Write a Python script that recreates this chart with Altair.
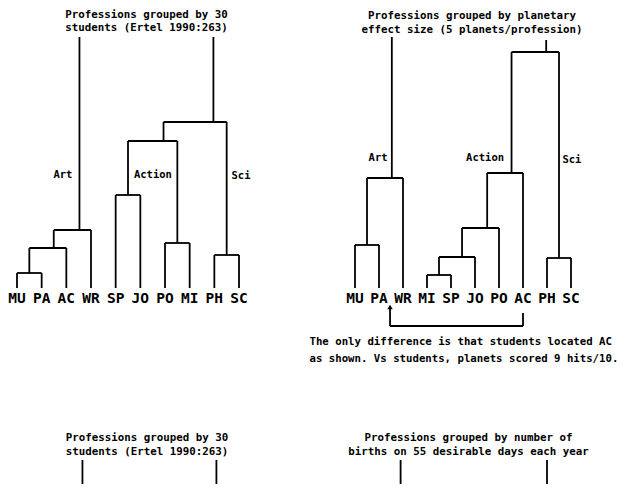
import altair as alt
import pandas as pd

# ---------------- data ----------------
# Top-left: professions grouped by 30 students (Ertel 1990:263)
TL_LEAVES = ["MU", "PA", "AC", "WR", "SP", "JO", "PO", "MI", "PH", "SC"]
# merges: (left node, right node, merge height, stem position fraction)
TL_MERGES = [
    (0, 1, 15, 0.5),      # 10  MU+PA
    (10, 2, 40, 0.66),    # 11  +AC
    (11, 3, 58, 0.69),    # 12  +WR  (Art)
    (4, 5, 93, 0.5),      # 13  SP+JO
    (6, 7, 45, 0.5),      # 14  PO+MI
    (13, 14, 147, 0.72),  # 15  Action
    (8, 9, 33, 0.5),      # 16  PH+SC (Sci)
    (15, 16, 166, 0.79),  # 17  Action+Sci
]
TL_ROOTS = [12, 17]
TL_ROOT_TOPS = [251, 251]
TL_GROUPS = ["Art", "Action", "Sci"]
TL_GROUP_X = [1.86, 5.51, 9.08]
TL_GROUP_Y = [113, 113, 112]

# Top-right: professions grouped by planetary effect size
TR_LEAVES = ["MU", "PA", "WR", "MI", "SP", "JO", "PO", "AC", "PH", "SC"]
TR_MERGES = [
    (0, 1, 43, 0.5),      # 10  MU+PA
    (10, 2, 110, 0.69),   # 11  +WR (Art)
    (3, 4, 13, 0.5),      # 12  MI+SP
    (12, 5, 31, 0.64),    # 13  +JO
    (13, 6, 60, 0.68),    # 14  +PO
    (14, 7, 115, 0.68),   # 15  +AC (Action)
    (8, 9, 30, 0.5),      # 16  PH+SC (Sci)
    (15, 16, 236, 0.73),  # 17  Action+Sci
]
TR_ROOTS = [11, 17]
TR_ROOT_TOPS = [251, 248]
TR_GROUPS = ["Art", "Action", "Sci"]
TR_GROUP_X = [0.96, 5.42, 9.04]
TR_GROUP_Y = [130, 130, 128]
# arrow: AC moved to between PA and WR by the students
ARROW_FROM = 7
ARROW_TO = 1.46

# Bottom-right: grouped by births on 55 desirable days (only root stems visible)
BR_ROOT_X = [1.9, 8.0]
BR_ROOT_TOPS = [251, 251]

TITLES = {
    "TL": ["Professions grouped by 30", "students (Ertel 1990:263)"],
    "TR": ["Professions grouped by planetary", "effect size (5 planets/profession)"],
    "BL": ["Professions grouped by 30", "students (Ertel 1990:263)"],
    "BR": ["Professions grouped by number of", "births on 55 desirable days each year"],
}
NOTE = ["The only difference is that students located AC",
        "as shown. Vs students, planets scored 9 hits/10."]

MONO = "DejaVu Sans Mono"
LW = 1.8


def dendro(n_leaves, merges, roots, root_tops):
    pos = {i: (float(i), 0.0) for i in range(n_leaves)}
    segs = []
    for k, (a, b, h, f) in enumerate(merges):
        xa, ha = pos[a]
        xb, hb = pos[b]
        segs.append(dict(x=xa, x2=xb, y=h, y2=h))
        segs.append(dict(x=xa, x2=xa, y=ha, y2=h))
        segs.append(dict(x=xb, x2=xb, y=hb, y2=h))
        pos[n_leaves + k] = (xa + f * (xb - xa), h)
    for r, top in zip(roots, root_tops):
        x, h = pos[r]
        segs.append(dict(x=x, x2=x, y=h, y2=top))
    return pd.DataFrame(segs)


def scales(xdom, ydom):
    return (alt.Scale(domain=xdom, nice=False, zero=False),
            alt.Scale(domain=ydom, nice=False, zero=False))


def rules(df, xs, ys, clip=False):
    return alt.Chart(df).mark_rule(color="black", strokeWidth=LW, clip=clip).encode(
        x=alt.X("x:Q", scale=xs, axis=None), x2="x2:Q",
        y=alt.Y("y:Q", scale=ys, axis=None), y2="y2:Q")


def leaf_labels(leaves, xs, ys):
    df = pd.DataFrame({"name": leaves, "i": list(range(len(leaves))), "h": [-11] * len(leaves)})
    return alt.Chart(df).mark_text(font=MONO, fontSize=14.5, fontWeight="bold",
                                   baseline="middle", align="center", color="black").encode(
        x=alt.X("i:Q", scale=xs, axis=None), y=alt.Y("h:Q", scale=ys, axis=None), text="name:N")


def group_labels(names, gx, gy, xs, ys):
    df = pd.DataFrame({"name": names, "gx": gx, "gy": gy})
    return alt.Chart(df).mark_text(font=MONO, fontSize=10.5, fontWeight="bold",
                                   baseline="middle", align="center", color="black").encode(
        x=alt.X("gx:Q", scale=xs, axis=None), y=alt.Y("gy:Q", scale=ys, axis=None), text="name:N")


def text_lines(lines, x, y0, dy, align="center", size=10.8):
    layers = []
    for k, line in enumerate(lines):
        layers.append(alt.Chart(pd.DataFrame({"a": [0]})).mark_text(
            font=MONO, fontSize=size, fontWeight="bold",
            align=align, baseline="middle", color="black").encode(
            x=alt.value(x), y=alt.value(y0 + k * dy), text=alt.value(line)))
    return layers


LW_W, RW_W = 300, 314
TOP_H, BOT_H = 362, 114

# ---- top-left ----
xs, ys = scales([-9 / 24.667, (LW_W - 9) / 24.667], [280 - TOP_H, 280])
tl_df = dendro(len(TL_LEAVES), TL_MERGES, TL_ROOTS, TL_ROOT_TOPS)
tl = alt.layer(
    rules(tl_df, xs, ys),
    leaf_labels(TL_LEAVES, xs, ys),
    group_labels(TL_GROUPS, TL_GROUP_X, TL_GROUP_Y, xs, ys),
    *text_lines(TITLES["TL"], 138.5, 7, 12.5),
).properties(width=LW_W, height=TOP_H)

# ---- top-right ----
xs2, ys2 = scales([-47 / 24, (RW_W - 47) / 24], [280 - TOP_H, 280])
tr_df = dendro(len(TR_LEAVES), TR_MERGES, TR_ROOTS, TR_ROOT_TOPS)
arrow_df = pd.DataFrame([
    dict(x=ARROW_FROM, x2=ARROW_FROM, y=-25, y2=-38),
    dict(x=ARROW_FROM, x2=ARROW_TO, y=-38, y2=-38),
    dict(x=ARROW_TO, x2=ARROW_TO, y=-38, y2=-20),
])
head_df = pd.DataFrame({"x": [ARROW_TO], "y": [-19]})
head = alt.Chart(head_df).mark_point(shape="triangle-up", filled=True, color="black",
                                     size=30, opacity=1).encode(
    x=alt.X("x:Q", scale=xs2, axis=None), y=alt.Y("y:Q", scale=ys2, axis=None))
tr = alt.layer(
    rules(tr_df, xs2, ys2),
    rules(arrow_df, xs2, ys2),
    head,
    leaf_labels(TR_LEAVES, xs2, ys2),
    group_labels(TR_GROUPS, TR_GROUP_X, TR_GROUP_Y, xs2, ys2),
    *text_lines(TITLES["TR"], 164, 8, 13.5),
    *text_lines(NOTE, 1.5, 334, 16.5, align="left", size=10.7),
).properties(width=RW_W, height=TOP_H)

# ---- bottom-left (same tree as top-left, cut off by the page) ----
xs3, ys3 = scales([-12 / 24.667, (LW_W - 12) / 24.667], [341 - BOT_H, 341])
bl = alt.layer(
    rules(tl_df, xs3, ys3, clip=True),
    *text_lines(TITLES["BL"], 139, 68, 14),
).properties(width=LW_W, height=BOT_H)

# ---- bottom-right (only root stems visible) ----
xs4, ys4 = scales([-47 / 24, (RW_W - 47) / 24], [341 - BOT_H, 341])
br_df = pd.DataFrame({"x": BR_ROOT_X, "x2": BR_ROOT_X,
                      "y": [0, 0], "y2": BR_ROOT_TOPS})
br = alt.layer(
    rules(br_df, xs4, ys4, clip=True),
    *text_lines(TITLES["BR"], 160.5, 68, 14),
).properties(width=RW_W, height=BOT_H)

chart = alt.vconcat(
    alt.hconcat(tl, tr, spacing=0),
    alt.hconcat(bl, br, spacing=0),
    spacing=0,
).properties(
    padding=0, background="white",
).configure_view(strokeWidth=0, stroke="transparent")

chart.save("out.html", embed_options={"renderer": "svg", "actions": False})
